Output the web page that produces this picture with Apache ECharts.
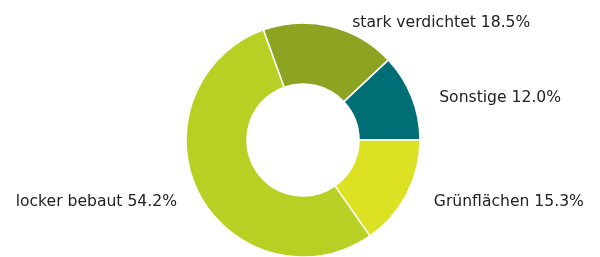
<!DOCTYPE html>
<html>
<head>
<meta charset="utf-8">
<script src="https://cdn.jsdelivr.net/npm/echarts@6/dist/echarts.min.js"></script>
<style>
  html, body { margin: 0; padding: 0; background: #fff; }
  #chart { width: 600px; height: 257px; }
</style>
</head>
<body>
<div id="chart"></div>
<script>
// Anteile in Prozent, gegen den Uhrzeigersinn ab 3 Uhr
var categories = ['Sonstige', 'stark verdichtet', 'locker bebaut', 'Grünflächen'];
var shares = [12.0, 18.5, 54.2, 15.3];
var colors = ['#006f75', '#8ca421', '#b8cf23', '#dde124'];

var chart = echarts.init(document.getElementById('chart'), null, { renderer: 'canvas' });

chart.setOption({
  backgroundColor: '#fff',
  animation: false,
  series: [{
    type: 'pie',
    center: [303, 140],
    radius: [56, 117],
    startAngle: 0,
    clockwise: false,
    avoidLabelOverlap: false,
    itemStyle: { borderColor: '#fff', borderWidth: 1.5 },
    label: {
      show: true,
      position: 'outside',
      fontFamily: 'DejaVu Sans',
      fontSize: 15.6,
      color: '#222',
      distanceToLabelLine: 5,
      // nudges right-hand labels a bit right
      padding: [0, 0, 0, 5],
      formatter: function(p) {
        return p.name + ' ' + p.value.toFixed(1) + '%';
      }
    },
    labelLayout: { dy: 4 },
    labelLine: { show: false, length: 8, length2: 10 },
    data: categories.map(function(name, i) {
      return { name: name, value: shares[i], itemStyle: { color: colors[i] } };
    })
  }]
});
</script>
</body>
</html>
